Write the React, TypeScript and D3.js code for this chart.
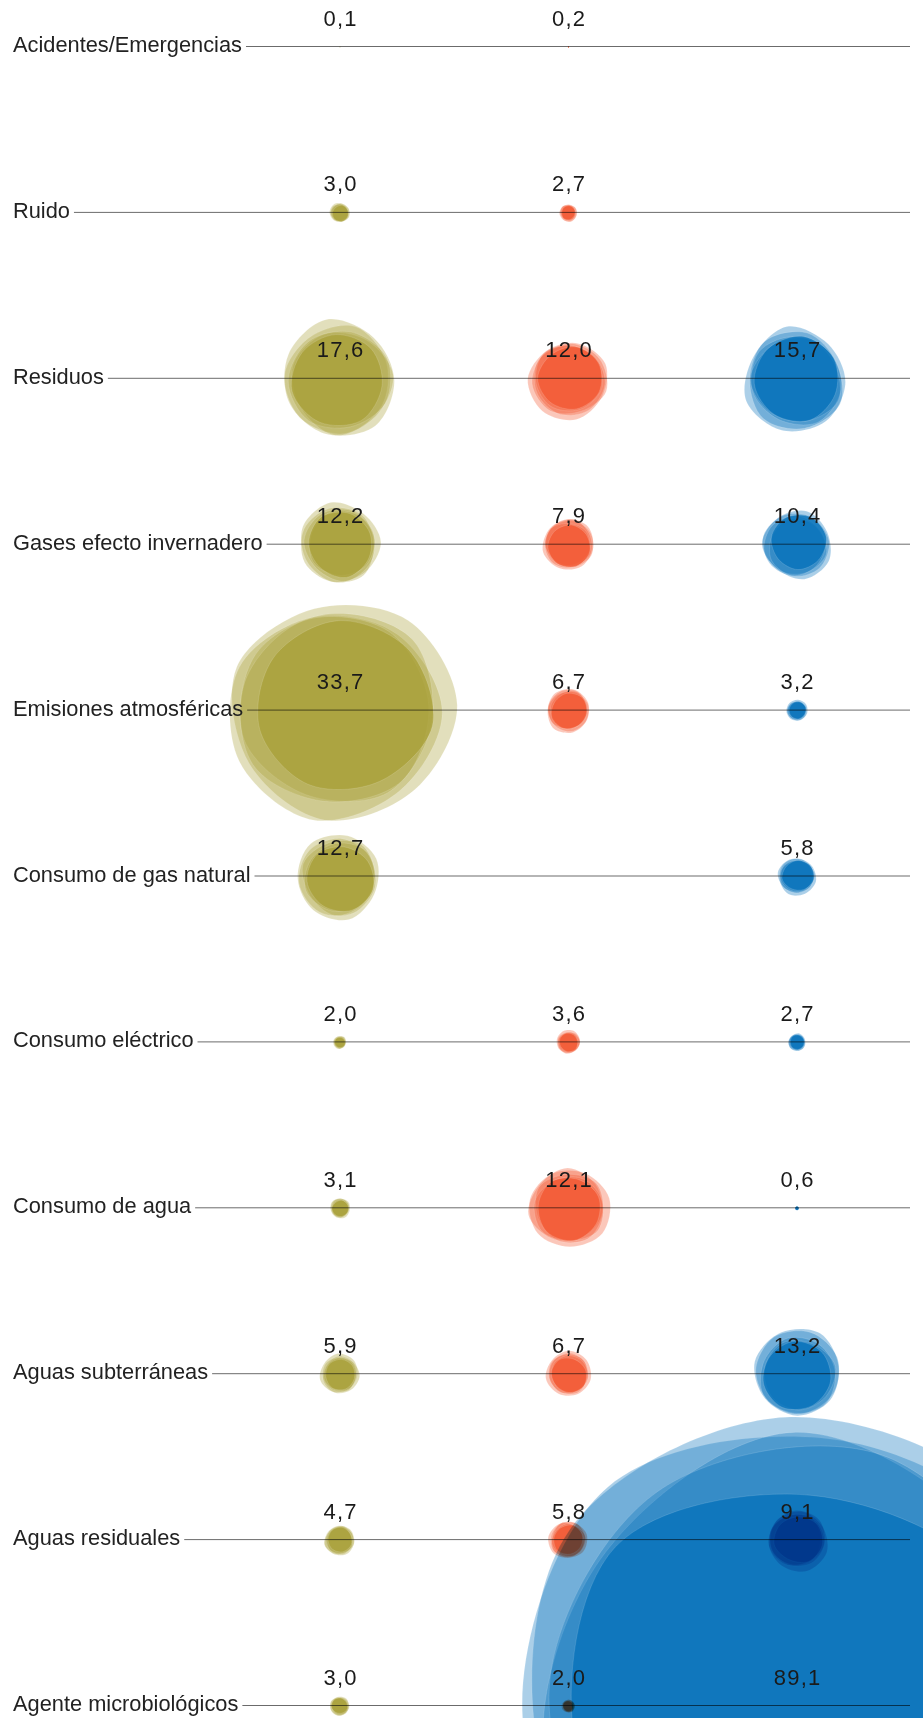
import React, { useEffect, useRef } from "react";
import * as d3 from "d3";

const categories = [
  "Acidentes/Emergencias",
  "Ruido",
  "Residuos",
  "Gases efecto invernadero",
  "Emisiones atmosféricas",
  "Consumo de gas natural",
  "Consumo eléctrico",
  "Consumo de agua",
  "Aguas subterráneas",
  "Aguas residuales",
  "Agente microbiológicos",
];

const seriesNames = ["A", "B", "C"];
const seriesColors = ["#aaa13b", "#f25a35", "#0873bb"];

const valuesA: (number | null)[] = [0.1, 3.0, 17.6, 12.2, 33.7, 12.7, 2.0, 3.1, 5.9, 4.7, 3.0];
const valuesB: (number | null)[] = [0.2, 2.7, 12.0, 7.9, 6.7, null, 3.6, 12.1, 6.7, 5.8, 2.0];
const valuesC: (number | null)[] = [null, null, 15.7, 10.4, 3.2, 5.8, 2.7, 0.6, 13.2, 9.1, 89.1];

const allSeries = [valuesA, valuesB, valuesC];

const W = 923;
const H = 1718;

function hash(n: number) {
  const v = Math.sin(n * 127.1 + 311.7) * 43758.5453;
  return v - Math.floor(v);
}

const layerScale = [1.17, 1.1, 1.05, 1.0, 0.94];
const layerOpacity = [0.34, 0.34, 0.34, 0.34, 0.8];

export default function App() {
  const ref = useRef<SVGSVGElement | null>(null);

  useEffect(() => {
    const svg = d3.select(ref.current);
    svg.selectAll("*").remove();

    const y = d3.scalePoint<string>().domain(categories).range([46, 1705]);
    const x = d3.scalePoint<string>().domain(seriesNames).range([340, 797]);
    const r = d3.scaleLinear().domain([0, 100]).range([0, 278]);
    const fmt = (v: number) => d3.format(".1f")(v).replace(".", ",");
    const font = "'Liberation Sans', Arial, sans-serif";

    const blobLayer = svg.append("g");
    const radial = d3
      .lineRadial<[number, number]>()
      .angle((d) => d[0])
      .radius((d) => d[1])
      .curve(d3.curveCatmullRomClosed.alpha(0.5));

    categories.forEach((cat, ci) => {
      seriesNames.forEach((s, si) => {
        const v = allSeries[si][ci];
        if (v == null) return;
        const R = r(v);
        const cx = x(s)!;
        const cy = y(cat)! + 1;
        const g = blobLayer
          .append("g")
          .attr("transform", `translate(${cx},${cy})`)
          .style("mix-blend-mode", "multiply");
        layerScale.forEach((ls, li) => {
          const seed = ci * 31 + si * 7 + li * 3 + 1;
          const RR = R * ls;
          const N = 7;
          const phase = hash(seed) * Math.PI * 2;
          const pts: [number, number][] = d3.range(N).map((i) => [
            phase + (i * 2 * Math.PI) / N,
            RR * (1 + 0.07 * (2 * hash(seed * 13 + i) - 1)),
          ]);
          const dx = R * 0.05 * (2 * hash(seed + 101) - 1);
          const dy = R * 0.05 * (2 * hash(seed + 203) - 1);
          g.append("path")
            .attr("d", radial(pts))
            .attr("transform", `translate(${dx},${dy})`)
            .attr("fill", seriesColors[si])
            .attr("fill-opacity", layerOpacity[li])
            .attr("stroke", R > 3 ? "#ffffff" : "none")
            .attr("stroke-opacity", 0.18)
            .attr("stroke-width", 0.7);
        });
      });
    });

    const lineLayer = svg.append("g");
    const textLayer = svg.append("g");

    categories.forEach((cat) => {
      const cy = y(cat)!;
      const t = textLayer
        .append("text")
        .attr("x", 13)
        .attr("y", cy + 6)
        .attr("font-family", font)
        .attr("font-size", 21.8)
        .attr("fill", "#222")
        .text(cat);
      const tw = (t.node() as SVGTextElement).getComputedTextLength();
      lineLayer
        .append("line")
        .attr("x1", 13 + tw + 4)
        .attr("x2", 910)
        .attr("y1", cy + 0.5)
        .attr("y2", cy + 0.5)
        .attr("stroke", "#000")
        .attr("stroke-opacity", 0.58)
        .attr("stroke-width", 1);
    });

    categories.forEach((cat, ci) => {
      seriesNames.forEach((s, si) => {
        const v = allSeries[si][ci];
        if (v == null) return;
        textLayer
          .append("text")
          .attr("x", x(s)! + 0.6)
          .attr("y", y(cat)! - 20.5)
          .attr("text-anchor", "middle")
          .attr("font-family", font)
          .attr("font-size", 22)
          .attr("letter-spacing", 1.2)
          .attr("fill", "#1a1a1a")
          .text(fmt(v));
      });
    });
  }, []);

  return (
    <svg
      ref={ref}
      width={W}
      height={H}
      style={{ position: "absolute", left: 0, top: 0, display: "block", background: "#fff" }}
    />
  );
}
